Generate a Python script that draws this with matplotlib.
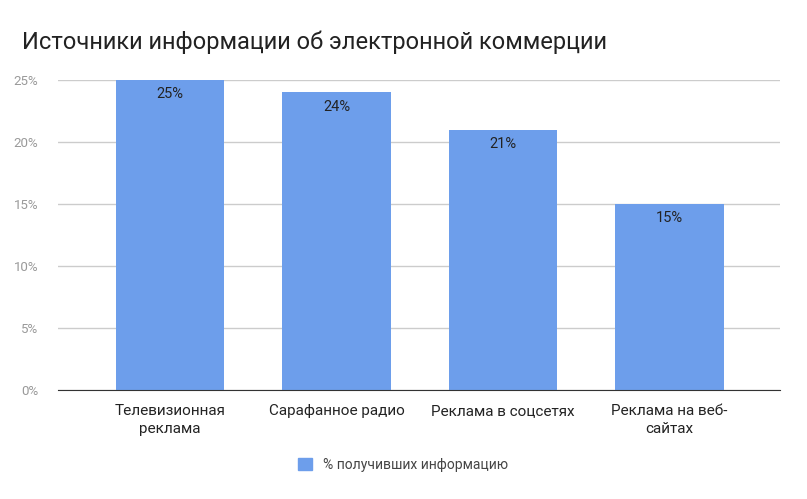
import matplotlib
matplotlib.use("Agg")
import matplotlib.pyplot as plt
from matplotlib.patches import Patch

categories = ["Телевизионная\nреклама", "Сарафанное радио", "Реклама в соцсетях", "Реклама на веб-\nсайтах"]
values = [25, 24, 21, 15]
yticks = [0, 5, 10, 15, 20, 25]
ytick_labels = ["0%", "5%", "10%", "15%", "20%", "25%"]
series_name = "% получивших информацию"
title = "Источники информации об электронной коммерции"

plt.rcParams["font.family"] = "Roboto"
color = "#6d9eeb"

fig = plt.figure(figsize=(8.07, 4.99), dpi=100)
ax = fig.add_axes([58/807, 109/499, 722/807, 310/499])
x = list(range(len(values)))
ax.bar(x, values, width=0.65, color=color, zorder=2)
for xi, v in zip(x, values):
    ax.text(xi, v - 0.6, f"{v}%", ha="center", va="top", fontsize=10.5, color="#222222", zorder=3)
ax.set_xlim(-0.673, 3.664)
ax.set_ylim(0, 25)
ax.set_yticks(yticks)
ax.set_yticklabels(ytick_labels, color="#999999", fontsize=9.5)
ax.set_xticks(x)
ax.set_xticklabels(categories, fontsize=11, color="#222222", linespacing=1.4)
ax.grid(axis="y", color="#cccccc", linewidth=1, zorder=0)
for s in ["top", "right", "left"]:
    ax.spines[s].set_visible(False)
ax.spines["bottom"].set_color("#333333")
ax.tick_params(axis="both", length=0, pad=10)
ax.tick_params(axis="y", pad=14)
fig.text(22/807, 1 - 42/499, title, fontsize=17, color="#222222", va="center", ha="left")
fig.legend(handles=[Patch(color=color)], labels=[series_name], loc="center",
           bbox_to_anchor=(0.5, 1 - 465/499), frameon=False, fontsize=10,
           handlelength=1, handleheight=1, labelcolor="#444444")
fig.savefig("out.png", dpi=100)
